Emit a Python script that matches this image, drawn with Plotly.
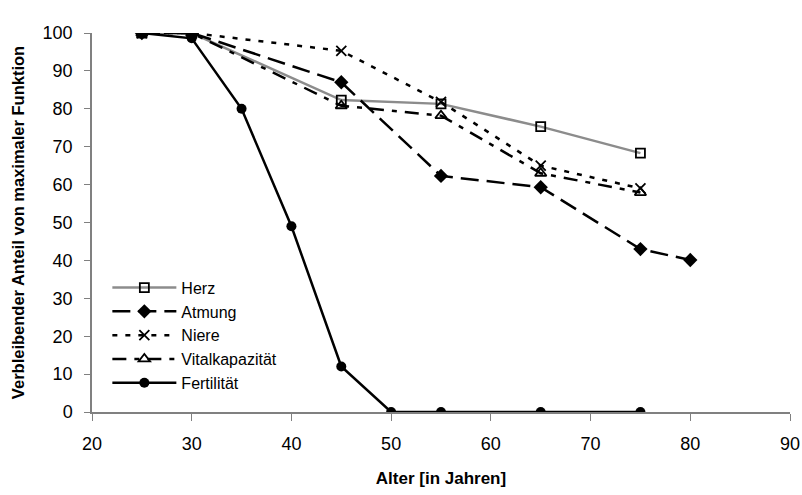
import plotly.graph_objects as go

herz_x = [25, 30, 45, 55, 65, 75]
herz_y = [100, 100, 82.3, 81.3, 75.3, 68.3]
atmung_x = [25, 30, 45, 55, 65, 75, 80]
atmung_y = [100, 100, 87, 62.3, 59.3, 43, 40.1]
niere_x = [25, 30, 45, 55, 65, 75]
niere_y = [100, 100, 95.3, 81.8, 65, 59]
vital_x = [25, 30, 45, 55, 65, 75]
vital_y = [100, 100, 80.8, 78.2, 63, 57.9]
fert_x = [25, 30, 35, 40, 45, 50, 55, 65, 75]
fert_y = [100, 98.6, 80, 49, 12, 0, 0, 0, 0]

fig = go.Figure()
fig.add_trace(go.Scatter(x=herz_x, y=herz_y, name="Herz", mode="lines+markers",
    line=dict(color="#8c8c8c", width=2.5),
    marker=dict(symbol="square-open", size=9, color="black", line=dict(width=1.8))))
fig.add_trace(go.Scatter(x=atmung_x, y=atmung_y, name="Atmung", mode="lines+markers",
    line=dict(color="black", width=2.5, dash="18px,8px"),
    marker=dict(symbol="diamond", size=11, color="black")))
fig.add_trace(go.Scatter(x=niere_x, y=niere_y, name="Niere", mode="lines+markers",
    line=dict(color="black", width=2.5, dash="5px,8px"),
    marker=dict(symbol="x-thin-open", size=10, color="black", line=dict(width=1.8, color="black"))))
fig.add_trace(go.Scatter(x=vital_x, y=vital_y, name="Vitalkapazität", mode="lines+markers",
    line=dict(color="black", width=2.5, dash="14px,8px,5px,8px"),
    marker=dict(symbol="triangle-up-open", size=10, color="black", line=dict(width=1.8))))
fig.add_trace(go.Scatter(x=fert_x, y=fert_y, name="Fertilität", mode="lines+markers",
    line=dict(color="black", width=2.5),
    marker=dict(symbol="circle", size=10, color="black")))

fig.update_layout(
    width=802, height=495,
    margin=dict(l=92, r=12, t=33, b=83, autoexpand=False),
    paper_bgcolor="white", plot_bgcolor="white",
    font=dict(family="Liberation Sans, Arial", size=17, color="black"),
    legend=dict(x=0.022, y=0.373, xanchor="left", yanchor="top",
                bgcolor="rgba(0,0,0,0)", font=dict(size=16),
                tracegroupgap=0, itemwidth=64),
    showlegend=True,
)
fig.update_xaxes(range=[20, 90], tickvals=list(range(20, 91, 10)),
    showline=True, linecolor="#808080", linewidth=1.5, ticks="outside",
    tickcolor="#808080", ticklen=7, showgrid=False, zeroline=False,
    tickfont=dict(size=18), ticklabelstandoff=8, automargin=False,
    title=dict(text="<b>Alter [in Jahren]</b>", font=dict(size=17), standoff=19))
fig.update_yaxes(range=[0, 100], tickvals=list(range(0, 101, 10)),
    showline=True, linecolor="#808080", linewidth=1.5, ticks="outside",
    tickcolor="#808080", ticklen=6, showgrid=False, zeroline=False,
    tickfont=dict(size=18), ticklabelstandoff=8, automargin=False,
    title=dict(text="<b>Verbleibender Anteil von maximaler Funktion</b>", font=dict(size=16.5), standoff=14))

fig.write_html("out.html", config={"displayModeBar": False},
               post_script="document.body.style.margin='0';document.body.style.overflow='hidden';")
